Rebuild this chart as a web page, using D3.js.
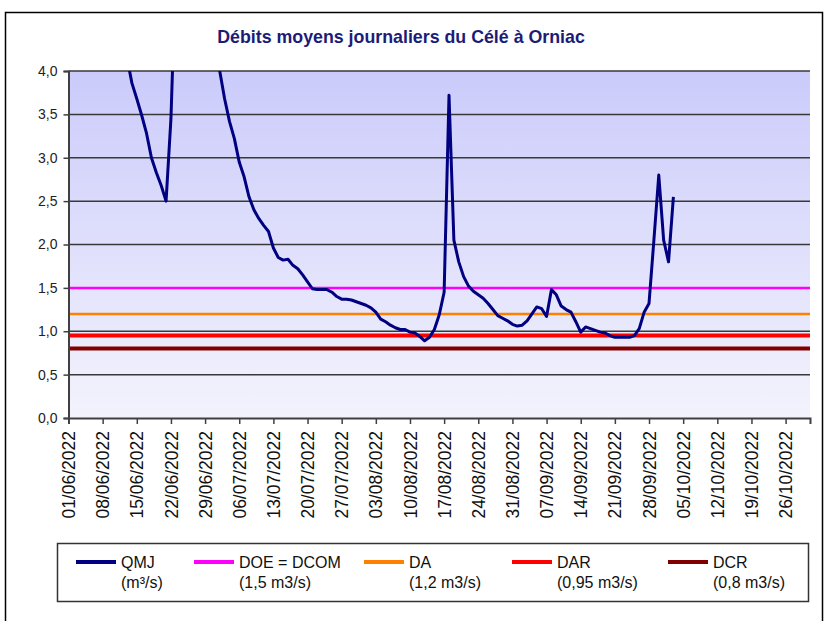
<!DOCTYPE html>
<html><head><meta charset="utf-8">
<script src="https://cdn.jsdelivr.net/npm/d3@7"></script>
<style>
html,body{margin:0;padding:0;background:#fff;}
svg{display:block;font-family:"Liberation Sans",Arial,sans-serif;}
</style></head>
<body>
<svg id="chart" width="828" height="621"></svg>
<script>
// ---------- DATA ----------
const startDate = "2022-06-01";
const axisEndDate = "2022-10-31";
// daily mean flow (m3/s); null = above the axis range / not readable
const june = [null,null,null,null,null,null,null,null,null,null,null,null,
  4.15,3.86,3.68,3.49,3.28,3.00,2.83,2.68,2.50,3.45,5.20,
  null,null,null,null,null,null,null];
const july = [4.50,4.00,3.68,3.42,3.22,2.95,2.78,2.55,2.40,2.30,2.22,2.15,1.96,1.85,1.82,1.83,
  1.76,1.72,1.65,1.57,1.49,1.48,1.48,1.48,1.45,1.40,1.37,1.37,1.36,1.34,1.32];
const august = [1.30,1.27,1.22,1.14,1.11,1.07,1.04,1.02,1.02,0.99,0.98,0.94,0.89,0.93,1.02,1.19,
  1.45,3.72,2.05,1.80,1.63,1.52,1.46,1.42,1.38,1.32,1.25,1.18,1.15,1.12,1.08];
const september = [1.06,1.07,1.12,1.20,1.28,1.26,1.17,1.48,1.42,1.29,1.25,1.22,1.11,0.99,1.05,
  1.03,1.01,0.99,0.98,0.95,0.93,0.93,0.93,0.93,0.95,1.03,1.22,1.32,2.05,2.80];
const october = [2.05,1.80,2.55];

const thresholdNames = ["DOE = DCOM","DA","DAR","DCR"];
const thresholdValues = [1.5,1.2,0.95,0.8];
const thresholdColors = ["#ff00ff","#ff8000","#ff0000","#800000"];
const thresholdWidths = [2.5,2.5,4,4];

const legendLabels = ["QMJ","DOE = DCOM","DA","DAR","DCR"];
const legendSubLabels = ["(m³/s)","(1,5 m3/s)","(1,2 m3/s)","(0,95 m3/s)","(0,8 m3/s)"];
const legendColors = ["#000080","#ff00ff","#ff8000","#ff0000","#800000"];

const yTicks = [0,0.5,1,1.5,2,2.5,3,3.5,4];
const xTickLabels = ["01/06/2022","08/06/2022","15/06/2022","22/06/2022","29/06/2022","06/07/2022",
  "13/07/2022","20/07/2022","27/07/2022","03/08/2022","10/08/2022","17/08/2022","24/08/2022",
  "31/08/2022","07/09/2022","14/09/2022","21/09/2022","28/09/2022","05/10/2022","12/10/2022",
  "19/10/2022","26/10/2022"];
const title = "Débits moyens journaliers du Célé à Orniac";

// ---------- BUILD ----------
const parseIso = d3.utcParse("%Y-%m-%d");
const parseFr = d3.utcParse("%d/%m/%Y");
const t0 = parseIso(startDate);
const allValues = [].concat(june, july, august, september, october);
const series = allValues.map((v,i)=>({date:d3.utcDay.offset(t0,i), value:v}));

const L = 68.5, R = 810, T = 71, B = 418;
const x = d3.scaleUtc().domain([t0, parseIso(axisEndDate)]).range([L, R]);
const y = d3.scaleLinear().domain([0,4]).range([B, T]);

const svg = d3.select("#chart");
const defs = svg.append("defs");
const grad = defs.append("linearGradient").attr("id","bg").attr("x1",0).attr("y1",0).attr("x2",0).attr("y2",1);
grad.append("stop").attr("offset","0%").attr("stop-color","#cbcbfb");
grad.append("stop").attr("offset","100%").attr("stop-color","#f3f3fd");
defs.append("clipPath").attr("id","clip").append("rect").attr("x",L).attr("y",T).attr("width",R-L).attr("height",B-T);

// outer frame
svg.append("rect").attr("x",5.5).attr("y",12.5).attr("width",817).attr("height",640)
  .attr("fill","none").attr("stroke","#000").attr("stroke-width",1.5);

// title
svg.append("text").attr("x",401).attr("y",43).attr("text-anchor","middle")
  .attr("font-size",17.8).attr("font-weight","bold").attr("fill","#1c1c78").text(title);

// plot background
svg.append("rect").attr("x",L).attr("y",T).attr("width",R-L).attr("height",B-T).attr("fill","url(#bg)");

// grid
svg.append("g").selectAll("line").data(yTicks.filter(v=>v>0)).join("line")
  .attr("x1",L).attr("x2",R).attr("y1",d=>y(d)).attr("y2",d=>y(d))
  .attr("stroke","#383838").attr("stroke-width",1.5);

// thresholds
svg.append("g").selectAll("line").data(thresholdValues).join("line")
  .attr("x1",L).attr("x2",R).attr("y1",d=>y(d)).attr("y2",d=>y(d))
  .attr("stroke",(d,i)=>thresholdColors[i]).attr("stroke-width",(d,i)=>thresholdWidths[i]);

// QMJ line
const line = d3.line().defined(d=>d.value!==null).x(d=>x(d.date)).y(d=>y(d.value));
svg.append("path").datum(series).attr("clip-path","url(#clip)")
  .attr("fill","none").attr("stroke","#000080").attr("stroke-width",3)
  .attr("stroke-linejoin","round").attr("d",line);

// y axis
const yAxis = d3.axisLeft(y).tickValues(yTicks).tickSize(5).tickPadding(6)
  .tickFormat(d=>d3.format(".1f")(d).replace(".",","));
const gy = svg.append("g").attr("transform",`translate(${L},0)`).call(yAxis);
gy.select(".domain").attr("stroke","#404040").attr("stroke-width",2);
gy.selectAll(".tick line").attr("stroke","#404040").attr("stroke-width",1.5);
gy.selectAll(".tick text").attr("font-size",14).attr("fill","#222").attr("font-family","Liberation Sans, Arial, sans-serif");

// x axis
const xTicks = xTickLabels.map(s=>parseFr(s));
const xAxis = d3.axisBottom(x).tickValues(xTicks).tickSize(6).tickFormat(d3.utcFormat("%d/%m/%Y"));
const gx = svg.append("g").attr("transform",`translate(0,${B})`).call(xAxis);
gx.select(".domain").attr("stroke","#404040").attr("stroke-width",2);
gx.selectAll(".tick line").attr("stroke","#404040").attr("stroke-width",1.5);
gx.selectAll(".tick text").attr("font-size",17.5).attr("fill","#111")
  .attr("font-family","Liberation Sans, Arial, sans-serif")
  .attr("text-anchor","end").attr("dy","0.35em")
  .attr("transform","translate(0,13) rotate(-90)").attr("x",0).attr("y",0);

// legend
const lg = svg.append("g");
lg.append("rect").attr("x",57.5).attr("y",543.5).attr("width",751).attr("height",58)
  .attr("fill","#fff").attr("stroke","#333").attr("stroke-width",1.5);
const legendX = [76,194,364,512,668];
const items = lg.selectAll("g.item").data(legendLabels).join("g").attr("class","item")
  .attr("transform",(d,i)=>`translate(${legendX[i]},0)`);
items.append("line").attr("x1",0).attr("x2",40).attr("y1",562).attr("y2",562)
  .attr("stroke",(d,i)=>legendColors[i]).attr("stroke-width",4);
items.append("text").attr("x",45).attr("y",568).attr("font-size",16).attr("fill","#111").text(d=>d);
items.append("text").attr("x",45).attr("y",588).attr("font-size",16).attr("fill","#111").text((d,i)=>legendSubLabels[i]);
</script>
</body></html>
